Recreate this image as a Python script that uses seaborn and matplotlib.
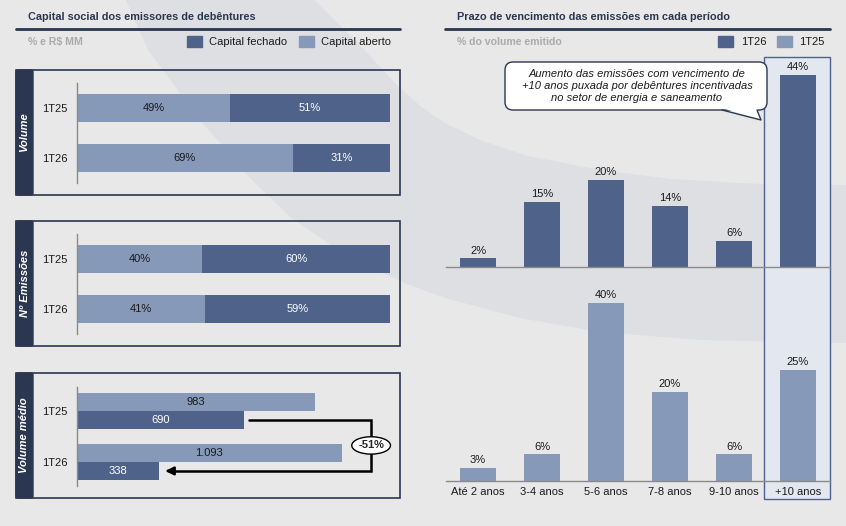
import numpy as np
import pandas as pd
import matplotlib
matplotlib.use('Agg')
import matplotlib.pyplot as plt
from matplotlib.patches import Rectangle, FancyBboxPatch, Polygon, Ellipse
import seaborn as sns

# Data
periods = ['1T25', '1T26']
vol_aberto = [49, 69]
vol_fechado = [51, 31]
emis_aberto = [40, 41]
emis_fechado = [60, 59]
medio_aberto = [983, 1093]
medio_fechado = [690, 338]
medio_var = '-51%'

prazo_cats = ['Até 2 anos', '3-4 anos', '5-6 anos', '7-8 anos', '9-10 anos', '+10 anos']
prazo_1t26 = [2, 15, 20, 14, 6, 44]
prazo_1t25 = [3, 6, 40, 20, 6, 25]

callout_text = ('Aumento das emissões com vencimento de\n'
                '+10 anos puxada por debêntures incentivadas\n'
                'no setor de energia e saneamento')

# Colours
BG = '#e8e8e8'
BAND = '#dedfe2'
DARK = '#4f6289'
LIGHT = '#8799b8'
NAVY = '#2b3750'
GRAY_TXT = '#ababab'
AXIS_GRAY = '#8a8a8a'
HILITE = '#e3e7f0'

sns.set_theme(style='white')
plt.rcParams['font.family'] = ['Liberation Sans', 'DejaVu Sans']
plt.rcParams['font.size'] = 8

W, H = 846, 526
fig = plt.figure(figsize=(W / 100, H / 100), dpi=100, facecolor=BG)


def px_box(x0, y0, x1, y1):
    # pixel rectangle (top-left origin) -> figure fraction
    return [x0 / W, 1 - y1 / H, (x1 - x0) / W, (y1 - y0) / H]


# background layer in pixel coordinates
bg = fig.add_axes([0, 0, 1, 1], zorder=-1)
bg.set_xlim(0, W)
bg.set_ylim(H, 0)
bg.axis('off')

band_pts = [(126, 0), (148, 50), (200, 120), (250, 178), (290, 217), (350, 258), (405, 283),
            (445, 298), (520, 318), (600, 332), (700, 340), (846, 343),
            (846, 185), (760, 184), (671, 179), (600, 170), (528, 156), (480, 140),
            (445, 123), (420, 106), (395, 83), (355, 40), (314, 0)]
bg.add_patch(Polygon(band_pts, closed=True, facecolor=BAND, edgecolor='none'))

# section titles
bg.text(28, 17, 'Capital social dos emissores de debêntures', fontsize=7.8, fontweight='bold',
        color=NAVY, va='center', ha='left')
bg.plot([16, 400], [29, 29], color=NAVY, lw=2)
bg.text(28, 42, '% e R$ MM', fontsize=7.6, fontweight='bold', color=GRAY_TXT, va='center')
bg.add_patch(Rectangle((187, 36), 15, 11, color=DARK))
bg.text(209, 42, 'Capital fechado', fontsize=8, color='#1a1a1a', va='center')
bg.add_patch(Rectangle((299, 36), 15, 11, color=LIGHT))
bg.text(321, 42, 'Capital aberto', fontsize=8, color='#1a1a1a', va='center')

bg.text(457, 17, 'Prazo de vencimento das emissões em cada período', fontsize=7.8,
        fontweight='bold', color=NAVY, va='center', ha='left')
bg.plot([445, 830], [29, 29], color=NAVY, lw=2)
bg.text(457, 42, '% do volume emitido', fontsize=7.6, fontweight='bold', color=GRAY_TXT,
        va='center')
bg.add_patch(Rectangle((718, 36), 15, 11, color=DARK))
bg.text(741, 42, '1T26', fontsize=8, color='#1a1a1a', va='center')
bg.add_patch(Rectangle((777, 36), 15, 11, color=LIGHT))
bg.text(799, 42, '1T25', fontsize=8, color='#1a1a1a', va='center')

# left panel frames with side tabs
panels = [(70, 195, 'Volume'), (221, 346, 'Nº Emissões'), (373, 498, 'Volume médio')]
for top, bottom, name in panels:
    bg.add_patch(Rectangle((16, top), 384, bottom - top, facecolor='none',
                           edgecolor=NAVY, lw=1.2))
    bg.add_patch(FancyBboxPatch((16, top), 17, bottom - top,
                                boxstyle='round,pad=0,rounding_size=2',
                                facecolor=NAVY, edgecolor=NAVY, lw=1))
    bg.text(24.5, (top + bottom) / 2, name, rotation=90, color='white', fontsize=8,
            fontweight='bold', fontstyle='italic', ha='center', va='center')

# highlight of the +10 anos column
bg.add_patch(Rectangle((764, 57), 66, 442, facecolor=HILITE, edgecolor=DARK, lw=1))


def style_left(ax):
    ax.set_facecolor('none')
    for s in ['top', 'right', 'bottom']:
        ax.spines[s].set_visible(False)
    ax.spines['left'].set_color(AXIS_GRAY)
    ax.spines['left'].set_linewidth(1)
    ax.set_xticks([])
    ax.set_xlabel('')
    ax.set_ylabel('')
    ax.tick_params(axis='y', length=0, pad=7, labelsize=8, labelcolor='#1a1a1a')


# stacked share panels
for (y0, y1), aberto, fechado in [((83, 183), vol_aberto, vol_fechado),
                                  ((234, 334), emis_aberto, emis_fechado)]:
    ax = fig.add_axes(px_box(77, y0, 390, y1))
    total = [a + f for a, f in zip(aberto, fechado)]
    sns.barplot(x=total, y=periods, orient='h', color=DARK, saturation=1, width=0.56,
                linewidth=0, ax=ax)
    sns.barplot(x=aberto, y=periods, orient='h', color=LIGHT, saturation=1, width=0.56,
                linewidth=0, ax=ax)
    for i, (a, f) in enumerate(zip(aberto, fechado)):
        ax.text(a / 2, i, f'{a}%', ha='center', va='center', fontsize=8, color='#1a1a1a')
        ax.text(a + f / 2, i, f'{f}%', ha='center', va='center', fontsize=8, color='white')
    ax.set_xlim(0, 100)
    ax.set_ylim(1.5, -0.5)
    style_left(ax)

# average volume panel
ax3 = fig.add_axes(px_box(77, 387, 390, 486))
df_medio = pd.DataFrame({
    'periodo': periods * 2,
    'serie': ['Capital aberto'] * 2 + ['Capital fechado'] * 2,
    'valor': medio_aberto + medio_fechado,
})
sns.barplot(data=df_medio, x='valor', y='periodo', hue='serie', orient='h',
            hue_order=['Capital aberto', 'Capital fechado'],
            palette={'Capital aberto': LIGHT, 'Capital fechado': DARK},
            saturation=1, width=0.7, linewidth=0, legend=False, ax=ax3)
fmt_br = lambda v: f'{v:,}'.replace(',', '.')
for i, (a, f) in enumerate(zip(medio_aberto, medio_fechado)):
    ax3.text(a / 2, i - 0.175, fmt_br(a), ha='center', va='center', fontsize=8,
             color='#1a1a1a')
    ax3.text(f / 2, i + 0.175, fmt_br(f), ha='center', va='center', fontsize=8,
             color='white')
ax3.set_xlim(0, 1293)
ax3.set_ylim(1.47, -0.47)
style_left(ax3)
# arrow linking the two closed-capital bars
x_turn = 1215
ax3.plot([medio_fechado[0] + 20, x_turn, x_turn, medio_fechado[1] + 40],
         [0.175, 0.175, 1.175, 1.175], color='black', lw=1.8, clip_on=False,
         solid_joinstyle='miter')
ax3.annotate('', xy=(medio_fechado[1] + 15, 1.175), xytext=(medio_fechado[1] + 60, 1.175),
             arrowprops=dict(arrowstyle='-|>,head_length=0.6,head_width=0.3',
                             color='black', lw=1.8), annotation_clip=False)
ax3.add_patch(Ellipse((x_turn, 0.675), 160, 0.34, facecolor='white', edgecolor='black',
                      lw=1, clip_on=False, zorder=5))
ax3.text(x_turn, 0.675, medio_var, ha='center', va='center', fontsize=8,
         fontweight='bold', zorder=6)


def style_right(ax):
    ax.set_facecolor('none')
    for s in ['top', 'right', 'left']:
        ax.spines[s].set_visible(False)
    ax.spines['bottom'].set_color(AXIS_GRAY)
    ax.spines['bottom'].set_linewidth(1)
    ax.set_yticks([])
    ax.set_xlabel('')
    ax.set_ylabel('')
    ax.set_xlim(-0.5, 5.5)


# maturity charts
ax_top = fig.add_axes(px_box(446, 60, 830, 267))
sns.barplot(x=prazo_cats, y=prazo_1t26, color=DARK, saturation=1, width=0.56,
            linewidth=0, ax=ax_top)
ax_top.bar_label(ax_top.containers[0], fmt='%d%%', padding=2, fontsize=8, color='#1a1a1a')
style_right(ax_top)
ax_top.set_ylim(0, 47.5)
ax_top.set_xticks([])

ax_bot = fig.add_axes(px_box(446, 281, 830, 481))
sns.barplot(x=prazo_cats, y=prazo_1t25, color=LIGHT, saturation=1, width=0.56,
            linewidth=0, ax=ax_bot)
ax_bot.bar_label(ax_bot.containers[0], fmt='%d%%', padding=2, fontsize=8, color='#1a1a1a')
style_right(ax_bot)
ax_bot.set_ylim(0, 45)
ax_bot.tick_params(axis='x', length=0, pad=4, labelsize=8, labelcolor='#1a1a1a')

# callout box on top
ov = fig.add_axes([0, 0, 1, 1], zorder=10)
ov.set_xlim(0, W)
ov.set_ylim(H, 0)
ov.axis('off')
ov.add_patch(FancyBboxPatch((505, 62), 262, 48, boxstyle='round,pad=0,rounding_size=8',
                            facecolor='white', edgecolor=NAVY, lw=1))
ov.add_patch(Polygon([(722, 108), (757, 108), (761, 120)], closed=True,
                     facecolor='white', edgecolor='none'))
ov.plot([722, 761, 757], [110, 120, 110], color=NAVY, lw=1)
ov.text(637, 86, callout_text, ha='center', va='center', fontsize=8, fontstyle='italic',
        color='#1a1a1a', linespacing=1.2)

fig.savefig('out.png', dpi=100, facecolor=BG)
